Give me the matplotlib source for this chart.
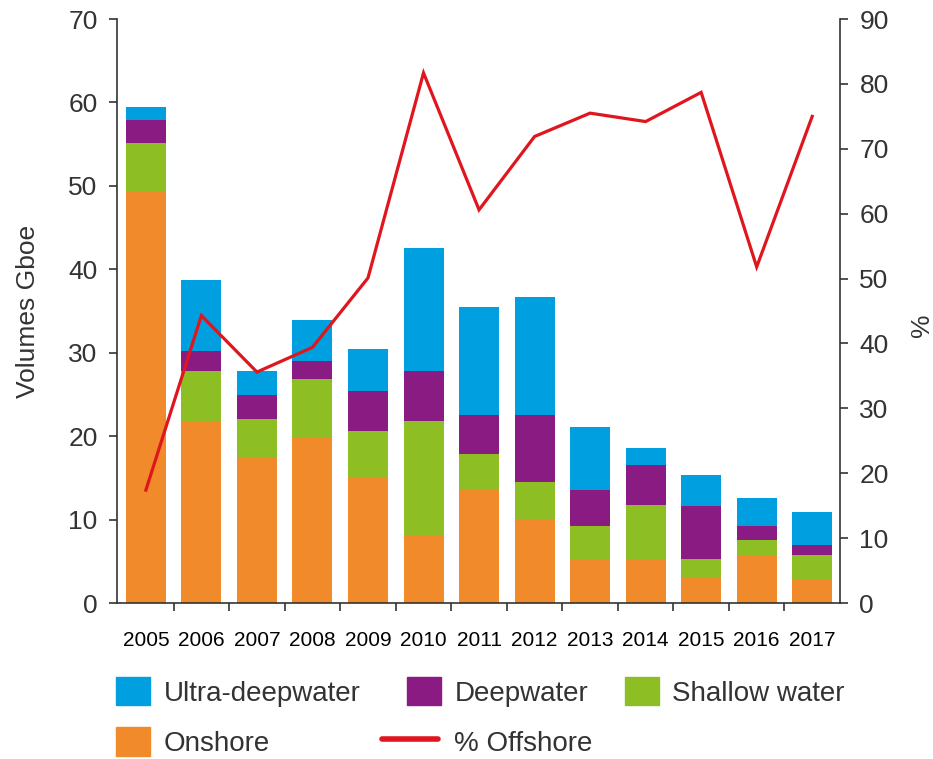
import numpy as np
import matplotlib
matplotlib.use("Agg")
import matplotlib.pyplot as plt
from matplotlib import font_manager
from matplotlib.patches import Patch
from matplotlib.lines import Line2D
from matplotlib.legend_handler import HandlerLine2D

plt.rcParams['font.family'] = ['Liberation Sans', 'DejaVu Sans']
plt.rcParams['text.color'] = '#333333'

# data (Gboe, % offshore)
years = ['2005', '2006', '2007', '2008', '2009', '2010', '2011',
         '2012', '2013', '2014', '2015', '2016', '2017']
onshore = [49.3, 21.8, 17.4, 19.9, 15.0, 8.0, 13.7, 10.1, 5.1, 5.1, 3.1, 5.8, 2.9]
shallow = [5.8, 6.0, 4.6, 6.9, 5.6, 13.8, 4.2, 4.4, 4.1, 6.6, 2.2, 1.7, 2.9]
deep = [2.8, 2.4, 2.9, 2.2, 4.8, 6.0, 4.6, 8.0, 4.3, 4.8, 6.3, 1.7, 1.2]
ultra = [1.6, 8.5, 2.9, 4.9, 5.1, 14.7, 13.0, 14.2, 7.6, 2.1, 3.7, 3.4, 3.9]
pct_offshore = [17.4, 44.3, 35.6, 39.4, 50.1, 81.7, 60.6, 71.9, 75.5, 74.2, 78.7, 51.8, 75.0]

c_ultra = '#009fdf'
c_deep = '#8a1b82'
c_shallow = '#8dbe24'
c_on = '#f08a2a'
c_red = '#e0161f'
dark = '#333333'

# year labels are in a narrow face if one is around
try:
    font_manager.findfont('Liberation Sans Narrow', fallback_to_default=False)
    year_font = {'family': 'Liberation Sans Narrow', 'size': 17.5}
except ValueError:
    year_font = {'family': 'Liberation Sans', 'size': 15}


class LongLine(HandlerLine2D):
    # legend line reaches further left than the square patches
    def create_artists(self, legend, orig_handle, xdescent, ydescent,
                       width, height, fontsize, trans):
        return super().create_artists(legend, orig_handle, xdescent + 18, ydescent,
                                      width + 16, height, fontsize, trans)


fig = plt.figure(figsize=(9.33, 7.59), dpi=100)
ax = fig.add_axes([0.1254, 0.2055, 0.7749, 0.7694])
ax2 = ax.twinx()

x = np.arange(len(years))
w = 0.72
b1 = np.array(onshore)
b2 = b1 + np.array(shallow)
b3 = b2 + np.array(deep)
ax.bar(x, onshore, w, color=c_on, zorder=2)
ax.bar(x, shallow, w, bottom=b1, color=c_shallow, zorder=2)
ax.bar(x, deep, w, bottom=b2, color=c_deep, zorder=2)
ax.bar(x, ultra, w, bottom=b3, color=c_ultra, zorder=2)

ax2.plot(x, pct_offshore, color=c_red, lw=2.3, solid_joinstyle='miter')

ax.set_xlim(-0.52, 12.5)
ax.set_ylim(0, 70)
ax2.set_ylim(0, 90)
ax.set_yticks(range(0, 71, 10))
ax2.set_yticks(range(0, 91, 10))

# ticks between the bars, year labels under the bars
ax.set_xticks(list(np.arange(0.5, 12, 1.0)))
ax.set_xticklabels([])
ax.set_xticks(x, minor=True)
ax.set_xticklabels(years, minor=True, fontdict=year_font)
ax.tick_params(axis='x', which='minor', length=0, pad=20)
ax.tick_params(axis='x', which='major', length=6, width=1.2, color=dark, direction='out')
ax.tick_params(axis='y', length=6, width=1.2, color=dark, labelsize=19, pad=8, labelcolor=dark)
ax2.tick_params(axis='y', length=6, width=1.2, color=dark, labelsize=19, pad=8, labelcolor=dark)
ax.tick_params(axis='x', labelcolor=dark)

for s in ['top', 'right']:
    ax.spines[s].set_visible(False)
for s in ['top', 'left', 'bottom']:
    ax2.spines[s].set_visible(False)
for s in ['left', 'bottom']:
    ax.spines[s].set_color(dark)
    ax.spines[s].set_linewidth(1.2)
ax2.spines['right'].set_color(dark)
ax2.spines['right'].set_linewidth(1.2)

ax.set_ylabel('Volumes Gboe', fontsize=19, color=dark)
ax.yaxis.set_label_coords(-0.1065, 0.5)
ax2.set_ylabel('%', fontsize=19, color=dark)
ax2.yaxis.set_label_coords(1.097, 0.475)

# legend: first two columns, then the third column on its own
leg_kw = dict(loc='upper left', frameon=False, fontsize=20, handlelength=1.24,
              handleheight=1.2, handletextpad=0.47, labelspacing=0.75,
              borderpad=0, borderaxespad=0)
red_handle = Line2D([], [], color=c_red, lw=4, solid_capstyle='round')
fig.legend([Patch(color=c_ultra), Patch(color=c_on), Patch(color=c_deep), red_handle],
           ['Ultra-deepwater', 'Onshore', 'Deepwater', '% Offshore'],
           ncol=2, columnspacing=1.67, bbox_to_anchor=(116 / 933, 1 - 677 / 759),
           handler_map={red_handle: LongLine()}, **leg_kw)
fig.legend([Patch(color=c_shallow)], ['Shallow water'],
           bbox_to_anchor=(625 / 933, 1 - 677 / 759), **leg_kw)

fig.savefig('out.png', dpi=100)
